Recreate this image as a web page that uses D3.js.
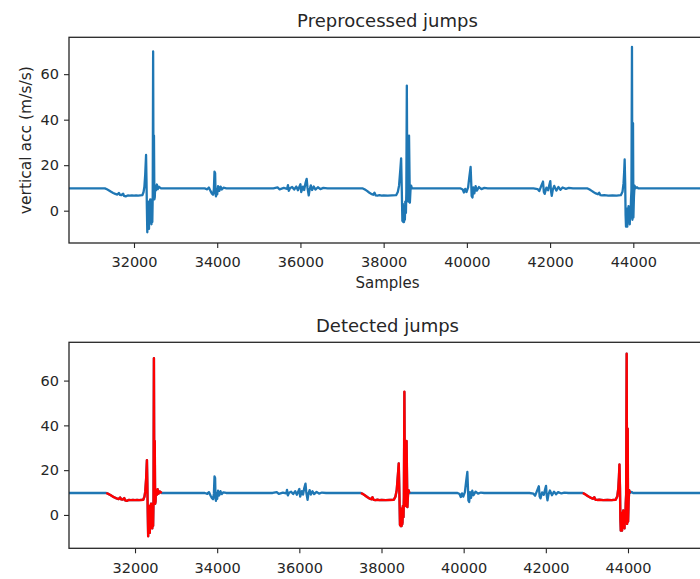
<!DOCTYPE html>
<html>
<head>
<meta charset="utf-8">
<script src="https://cdn.jsdelivr.net/npm/d3@7/dist/d3.min.js"></script>
<style>
  html, body { margin: 0; padding: 0; background: #fff; }
  svg { display: block; font-family: "DejaVu Sans", sans-serif; }
</style>
</head>
<body>
<svg id="chart" width="700" height="579"></svg>
<script>
"use strict";

/* ── Data: [sample index, vertical acceleration (m/s/s)] ── */
const accel = [
  [30380, 9.8], [31000, 9.8], [31300, 9.8], [31350, 9.4], [31400, 8.9], [31450, 8.3],
  [31500, 7.8], [31550, 7.4], [31600, 7.1], [31640, 7.8], [31660, 7.0], [31700, 6.9],
  [31740, 7.5], [31760, 6.5], [31800, 6.3], [31850, 6.7], [31900, 6.6], [31950, 6.7],
  [32000, 6.6], [32050, 6.7], [32100, 6.6], [32150, 6.7], [32200, 6.8], [32230, 8.2],
  [32250, 10.5], [32270, 16], [32290, 24.5], [32300, 14], [32310, 1], [32320, -9.5],
  [32330, 2], [32340, -7], [32350, 4], [32360, -8], [32370, 0], [32380, -4],
  [32390, 5], [32400, -5], [32410, 3], [32420, -6], [32430, 5], [32440, -5],
  [32450, 6], [32460, 70], [32470, 5], [32480, 33], [32490, 5], [32500, 6],
  [32510, 11], [32530, 9], [32550, 11.5], [32570, 9.5], [32600, 10.5], [32650, 9.8],
  [33700, 9.8], [33760, 9.4], [33800, 10.2], [33840, 8.6], [33870, 7.6], [33900, 7.0],
  [33920, 9.5], [33935, 17.2], [33950, 16.5], [33960, 7.5], [33970, 6.3], [33985, 9.5],
  [34000, 7.2], [34020, 10.8], [34050, 8.7], [34080, 10.6], [34110, 9.3], [34150, 10.1],
  [34220, 9.8],
  [35350, 9.8], [35450, 10.2], [35500, 9.4], [35600, 10.0], [35680, 9.6], [35700, 11.2],
  [35720, 8.7], [35750, 9.9], [35800, 10.4], [35850, 9.3], [35900, 10.6], [35940, 9.0],
  [36000, 11.6], [36020, 8.2], [36060, 10.6], [36090, 9.1], [36120, 12], [36150, 14],
  [36170, 10], [36200, 6.7], [36220, 9.2], [36250, 11.1], [36280, 9.1], [36320, 10.6],
  [36360, 9.3], [36420, 10.3], [36480, 9.5], [36550, 10.0], [36650, 9.8],
  [37500, 9.8], [37550, 9.3], [37600, 8.7], [37650, 8.0], [37700, 7.4], [37750, 7.0],
  [37780, 7.9], [37810, 6.7], [37850, 6.6], [37900, 6.8], [37950, 6.6], [38000, 6.7],
  [38100, 6.6], [38200, 6.7], [38300, 6.8], [38340, 8.2], [38370, 11], [38400, 18],
  [38420, 23], [38435, 10], [38450, -4.5], [38460, 3], [38470, -5], [38480, 1],
  [38490, -5], [38500, 2], [38510, -4], [38520, 4], [38535, -1], [38545, 8],
  [38557, 55], [38570, 5], [38585, 9], [38595, 4], [38610, 33], [38630, 3.5],
  [38645, 9], [38660, 11], [38680, 9.8],
  [39850, 9.8], [39900, 9.3], [39930, 8.0], [39960, 9.6], [39990, 8.2], [40030, 10.2],
  [40060, 15], [40090, 19.2], [40105, 12], [40115, 6.5], [40135, 5.8], [40155, 10.2],
  [40180, 7.6], [40210, 10.8], [40240, 8.8], [40290, 10.4], [40350, 9.5], [40420, 10],
  [40500, 9.8],
  [41600, 9.8], [41700, 9.5], [41740, 8.6], [41790, 11], [41830, 12.8], [41850, 8.2],
  [41870, 7.4], [41910, 10.1], [41950, 9.0], [41980, 11.2], [42005, 13], [42020, 9],
  [42040, 6.5], [42065, 9.2], [42100, 10.9], [42150, 8.8], [42200, 10.4], [42250, 9.2],
  [42300, 10.2], [42380, 9.6], [42450, 10.0], [42550, 9.8],
  [42900, 9.8], [42950, 9.3], [43000, 8.7], [43050, 8.1], [43100, 7.6], [43150, 7.2],
  [43180, 7.9], [43210, 6.8], [43250, 6.7], [43300, 6.8], [43400, 6.6], [43500, 6.7],
  [43600, 6.6], [43700, 6.8], [43740, 8.3], [43765, 12], [43780, 17], [43792, 22.5],
  [43805, 12], [43815, -2], [43825, -7], [43835, 1], [43845, -5], [43855, -7],
  [43865, 0], [43875, -4], [43885, 2], [43895, -5], [43905, -2], [43915, -6],
  [43925, 1], [43935, -3], [43945, 5], [43955, 9], [43968, 72], [43978, -4],
  [43985, 3], [43993, 38.5], [44002, -3], [44015, 6], [44030, 11], [44050, 9.8],
  [44090, 10.3], [44120, 9.8], [46000, 9.8]
];

/* Sample ranges flagged as jumps (drawn red in the lower panel) */
const jumpRanges = [[31300, 32650], [37500, 38680], [42900, 44050]];

const xTicks = [32000, 34000, 36000, 38000, 40000, 42000, 44000];
const yTicks = [0, 20, 40, 60];

const BLUE = "#1f77b4";
const RED  = "#ff0000";
const INK  = "#262626";

const svg = d3.select("#chart");

/* ── One subplot ── */
function drawPanel(cfg) {
  const { left, right, top, bottom, xDomain, yDomain, title, xLabel, yLabel, highlight, id } = cfg;

  const x = d3.scaleLinear().domain(xDomain).range([left, right]);
  const y = d3.scaleLinear().domain(yDomain).range([bottom, top]);

  const g = svg.append("g");

  g.append("clipPath").attr("id", id)
    .append("rect")
    .attr("x", left).attr("y", top)
    .attr("width", right - left).attr("height", bottom - top);

  const line = d3.line()
    .x(d => x(d[0]))
    .y(d => y(d[1]));

  const plot = g.append("g").attr("clip-path", `url(#${id})`);

  plot.append("path")
    .datum(accel)
    .attr("d", line)
    .attr("fill", "none")
    .attr("stroke", BLUE)
    .attr("stroke-width", 2.3)
    .attr("stroke-linejoin", "round");

  if (highlight) {
    jumpRanges.forEach(([a, b]) => {
      plot.append("path")
        .datum(accel.filter(d => d[0] >= a && d[0] <= b))
        .attr("d", line)
        .attr("fill", "none")
        .attr("stroke", RED)
        .attr("stroke-width", 2.4)
        .attr("stroke-linejoin", "round");
    });
  }

  /* ── Axes ── */
  g.append("g")
    .attr("transform", `translate(0,${bottom})`)
    .call(d3.axisBottom(x).tickValues(xTicks).tickFormat(d3.format("d")).tickSize(5).tickPadding(9))
    .call(a => {
      a.select(".domain").remove();
      a.selectAll("line").attr("stroke", INK).attr("stroke-width", 1.1);
      a.selectAll("text").attr("fill", INK).attr("font-size", "14.5px")
        .attr("font-family", "DejaVu Sans");
    });

  g.append("g")
    .attr("transform", `translate(${left},0)`)
    .call(d3.axisLeft(y).tickValues(yTicks).tickFormat(d3.format("d")).tickSize(5).tickPadding(5))
    .call(a => {
      a.select(".domain").remove();
      a.selectAll("line").attr("stroke", INK).attr("stroke-width", 1.1);
      a.selectAll("text").attr("fill", INK).attr("font-size", "14.5px")
        .attr("font-family", "DejaVu Sans");
    });

  /* frame */
  g.append("rect")
    .attr("x", left).attr("y", top)
    .attr("width", right - left).attr("height", bottom - top)
    .attr("fill", "none")
    .attr("stroke", INK)
    .attr("stroke-width", 1.3);

  /* ── Texts ── */
  g.append("text")
    .attr("x", (left + right) / 2).attr("y", top - 10.5)
    .attr("text-anchor", "middle")
    .attr("fill", INK).attr("font-size", "18px")
    .text(title);

  if (xLabel) {
    g.append("text")
      .attr("x", (left + right) / 2).attr("y", bottom + 45)
      .attr("text-anchor", "middle")
      .attr("fill", INK).attr("font-size", "15px")
      .text(xLabel);
  }

  if (yLabel) {
    g.append("text")
      .attr("transform", `translate(${left - 38},${(top + bottom) / 2}) rotate(-90)`)
      .attr("text-anchor", "middle")
      .attr("fill", INK).attr("font-size", "15.5px")
      .text(yLabel);
  }
}

drawPanel({
  id: "clip-top",
  left: 69, right: 706, top: 37.3, bottom: 243,
  xDomain: [30438, 45747], yDomain: [-14.2, 76.2],
  title: "Preprocessed jumps",
  xLabel: "Samples",
  yLabel: "vertical acc (m/s/s)",
  highlight: false
});

drawPanel({
  id: "clip-bottom",
  left: 69, right: 706, top: 342.3, bottom: 548.3,
  xDomain: [30393, 45899], yDomain: [-14.9, 77.1],
  title: "Detected jumps",
  highlight: true
});
</script>
</body>
</html>
